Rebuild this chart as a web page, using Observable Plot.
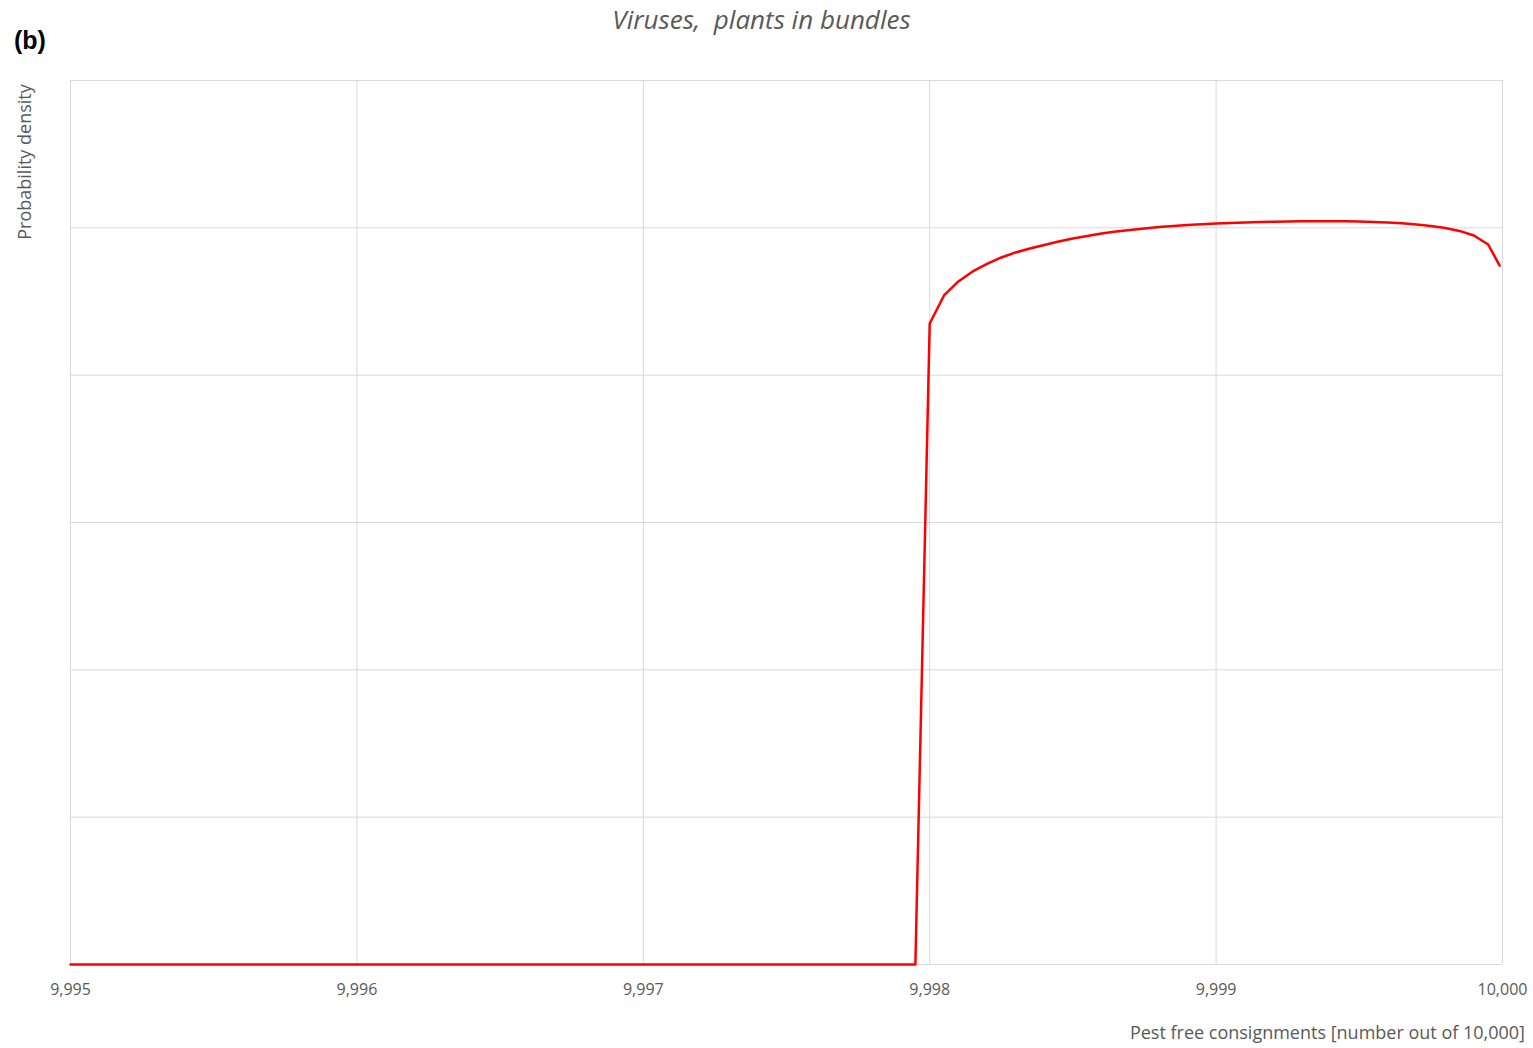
<!DOCTYPE html>
<html>
<head>
<meta charset="utf-8">
<script src="https://cdn.jsdelivr.net/npm/d3@7"></script>
<script src="https://cdn.jsdelivr.net/npm/@observablehq/plot@0.6"></script>
<style>
  html, body { margin: 0; padding: 0; background: #fff; }
  #wrap { position: relative; width: 1533px; height: 1048px; overflow: hidden; }
  #chart { position: absolute; left: 0; top: 0; }
  .lbl { position: absolute; white-space: nowrap; font-family: "Open Sans", sans-serif; color: #595959; line-height: 1.2; }
  #panel { left: 14px; top: 25px; font-family: "Liberation Sans", Arial, sans-serif; font-weight: bold; font-size: 25px; color: #000; }
  #title { left: 0; width: 1523px; text-align: center; top: 4px; font-size: 26px; font-style: italic; }
  #ylab { left: 25px; top: 162px; font-size: 18px; transform: translate(-50%, -50%) rotate(-90deg); }
  #xlab { right: 8px; top: 1022px; font-size: 18px; }
</style>
</head>
<body>
<div id="wrap">
  <div id="chart"></div>
  <div class="lbl" id="panel">(b)</div>
  <div class="lbl" id="title">Viruses,&nbsp; plants in bundles</div>
  <div class="lbl" id="ylab">Probability density</div>
  <div class="lbl" id="xlab">Pest free consignments [number out of 10,000]</div>
</div>
<script>
// Pest free consignments (x) and probability density (relative units, y)
const xValues = [
  9995, 9997.95,
  9998.00, 9998.05, 9998.10, 9998.15, 9998.20, 9998.25, 9998.30, 9998.35, 9998.40, 9998.45,
  9998.50, 9998.55, 9998.60, 9998.65, 9998.70, 9998.75, 9998.80, 9998.85, 9998.90, 9998.95,
  9999.00, 9999.05, 9999.10, 9999.15, 9999.20, 9999.25, 9999.30, 9999.35, 9999.40, 9999.45,
  9999.50, 9999.55, 9999.60, 9999.65, 9999.70, 9999.75, 9999.80, 9999.85, 9999.90, 9999.95,
  9999.99
];
const densityValues = [
  0, 0,
  4.351, 4.541, 4.636, 4.704, 4.755, 4.799, 4.833, 4.860, 4.884, 4.907,
  4.928, 4.945, 4.962, 4.975, 4.985, 4.996, 5.006, 5.013, 5.019, 5.024,
  5.030, 5.033, 5.036, 5.039, 5.041, 5.043, 5.044, 5.045, 5.045, 5.044,
  5.043, 5.040, 5.036, 5.031, 5.023, 5.013, 4.999, 4.979, 4.948, 4.887,
  4.744
];
const xTicks = [9995, 9996, 9997, 9998, 9999, 10000];
const yTicks = [0, 1, 2, 3, 4, 5, 6];

const data = xValues.map((x, i) => ({x, y: densityValues[i]}));

const chart = Plot.plot({
  width: 1533,
  height: 1048,
  marginLeft: 70,
  marginRight: 31,
  marginTop: 80,
  marginBottom: 84,
  style: {fontFamily: "'Open Sans', sans-serif", background: "transparent"},
  x: {domain: [9995, 10000], axis: null},
  y: {domain: [0, 6], axis: null},
  marks: [
    Plot.gridX(xTicks, {stroke: "#d9d9d9", strokeOpacity: 1, strokeWidth: 1}),
    Plot.gridY(yTicks, {stroke: "#d9d9d9", strokeOpacity: 1, strokeWidth: 1}),
    Plot.axisX(xTicks, {
      tickSize: 0,
      tickPadding: 19,
      fontSize: 16,
      fill: "#595959",
      tickFormat: d3.format(","),
      label: null
    }),
    Plot.line(data, {x: "x", y: "y", stroke: "#ff0000", strokeWidth: 2.5})
  ]
});
document.getElementById("chart").appendChild(chart);
</script>
</body>
</html>
